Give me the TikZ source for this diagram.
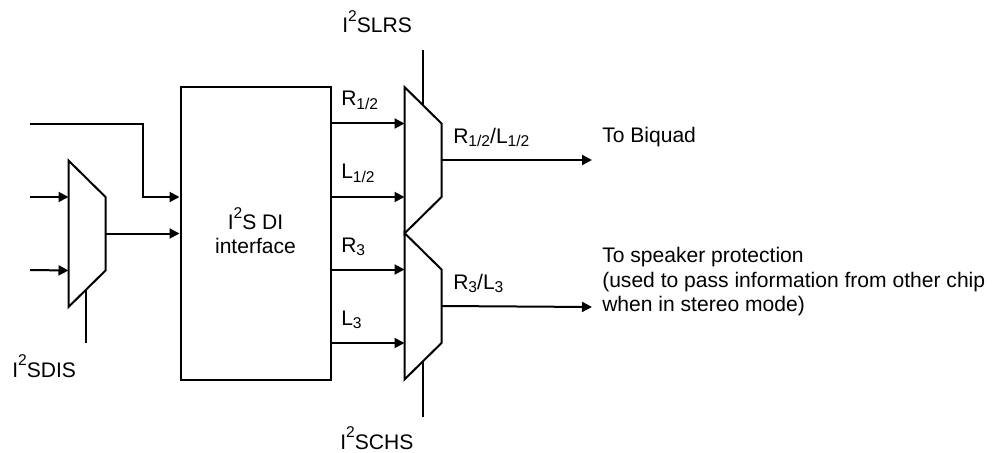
\documentclass[tikz,border=0pt]{standalone}
\usepackage{fontspec}
\setmainfont{Liberation Sans}
\usetikzlibrary{arrows.meta}

\tikzstyle{arrow} = [line width=1.5pt, -{Triangle[length=7.5pt,width=7.5pt]}]
\tikzstyle{wire} = [line width=1.5pt]
\tikzstyle{lbl} = [anchor=base west, inner sep=0pt, font=\fontsize{15.8}{18.5}\selectfont]

\newcommand{\sbs}[1]{\raisebox{-0.3ex}{\fontsize{11.7}{11.7}\selectfont #1}}
\newcommand{\sps}[1]{\raisebox{1ex}{\fontsize{11.7}{11.7}\selectfont #1}}

\begin{document}
\begin{tikzpicture}[x=0.75pt,y=-0.75pt]
	\useasboundingbox (0,0) rectangle (997,453);
	\node (box) [draw, line width=1.5pt, minimum width=112.5pt, minimum height=219.75pt, inner sep=0pt] at (255.5,233.5) {};
	\node (boxlbl) [lbl, anchor=north, align=center] at (255.5,207) {I\sps{2}S DI\\interface};
	% the three selectors
	\foreach \name/\xl/\yt in {sel/68.5/160.5, lr/404.5/87, ch/404.5/233} {
		\draw[wire, line join=miter] (\xl,\yt) coordinate (\name tl)
			-- (\xl+37,\yt+36.5) -- (\xl+37,\yt+110) -- (\xl,\yt+146.5) -- cycle;
		\coordinate (\name a) at (\xl,\yt+36.5);
		\coordinate (\name b) at (\xl,\yt+110);
		\coordinate (\name o) at (\xl+37,\yt+73);
	}
	% free ends
	\coordinate (insel1) at (30,197);
	\coordinate (insel2) at (30,270);
	\coordinate (intop) at (30,124);
	\coordinate (bend) at (143,124);
	\coordinate (toB) at (592,160);
	\coordinate (toS) at (592,307);
	\coordinate (sdis) at (86,343);
	\coordinate (sdisf) at (86,289);
	\coordinate (slrs) at (422.7,50);
	\coordinate (slrsf) at (422.7,105);
	\coordinate (schs) at (422.7,417);
	\coordinate (schsf) at (422.7,361);

	\draw[arrow] (insel1) -- (sela);
	\draw[arrow] (insel2) -- (selb);
	\draw[arrow] (intop) -- (bend) |- (box.west |- sela);
	\draw[arrow] (selo) -- (box.west |- selo);
	\foreach \name in {lra, lrb, cha, chb} {
		\draw[arrow] (box.east |- \name) -- (\name);
	}
	\draw[arrow] (lro) -- (toB);
	\draw[arrow] (cho) -- (toS);
	\draw[wire] (sdisf) -- (sdis);
	\draw[wire] (slrs) -- (slrsf);
	\draw[wire] (schsf) -- (schs);

	\node (lbrh) [lbl] at (341,106) {R\sbs{1/2}};
	\node (lblh) [lbl] at (341,179) {L\sbs{1/2}};
	\node (lbrt) [lbl] at (341,252) {R\sbs{3}};
	\node (lblt) [lbl] at (341,325) {L\sbs{3}};
	\node (lblr) [lbl] at (453,143) {R\sbs{1/2}/L\sbs{1/2}};
	\node (lbch) [lbl] at (453,289) {R\sbs{3}/L\sbs{3}};
	\node (lbslrs) [lbl] at (342,33) {I\sps{2}SLRS};
	\node (lbschs) [lbl] at (340,449) {I\sps{2}SCHS};
	\node (lbsdis) [lbl] at (12,377) {I\sps{2}SDIS};
	\node (lbbiq) [lbl] at (602,142.5) {To Biquad};
	\node (lbspk) [lbl, anchor=north west, align=left] at (602,247) {To speaker protection\\(used to pass information from other chip\\when in stereo mode)};
\end{tikzpicture}
\end{document}
